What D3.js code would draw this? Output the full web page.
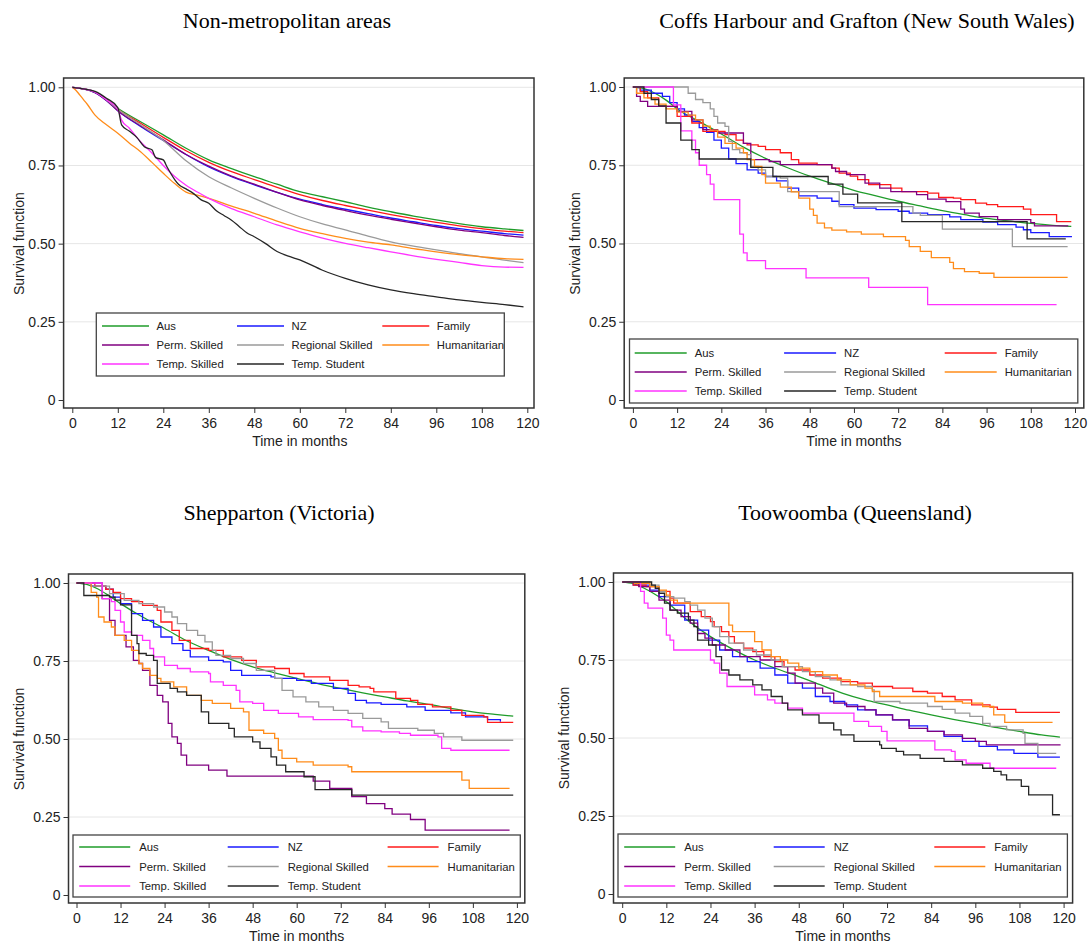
<!DOCTYPE html>
<html>
<head>
<meta charset="utf-8">
<script src="https://cdn.jsdelivr.net/npm/d3@7"></script>
<style>
  body { margin: 0; background: #fff; }
  svg text { font-family: "Liberation Sans", Arial, sans-serif; fill: #222; }
  .title { font-family: "Liberation Serif", "Times New Roman", serif; font-size: 22px; fill: #000; }
</style>
</head>
<body>
<svg id="chart" width="1090" height="943"></svg>
<script>
const timeTicks = [0, 12, 24, 36, 48, 60, 72, 84, 96, 108, 120];
const survTicks = [0, 0.25, 0.5, 0.75, 1];
const gridTicks = [0.25, 0.5, 0.75, 1];
const seriesNames = ["Aus", "NZ", "Family", "Perm. Skilled", "Regional Skilled", "Humanitarian", "Temp. Skilled", "Temp. Student"];
const seriesColors = ["#1f9c2a", "#1a1aff", "#ff1a1a", "#800080", "#9a9a9a", "#ff8c1a", "#ff33ff", "#262626"];
const panelTitles = ["Non-metropolitan areas", "Coffs Harbour and Grafton (New South Wales)", "Shepparton (Victoria)", "Toowoomba (Queensland)"];

// [month, survival] pairs
const nmAus = [[0,1],[3,0.995],[6,0.985],[9,0.96],[12,0.933],[18,0.89],[24,0.848],[30,0.805],[36,0.768],[42,0.74],[48,0.714],[54,0.69],[60,0.666],[66,0.65],[72,0.634],[78,0.617],[84,0.602],[90,0.588],[96,0.576],[102,0.564],[108,0.554],[114,0.547],[119,0.542]];
const nmNZ = [[0,1],[3,0.995],[6,0.983],[9,0.958],[12,0.925],[18,0.875],[24,0.83],[30,0.785],[36,0.745],[42,0.714],[48,0.688],[54,0.664],[60,0.642],[66,0.625],[72,0.61],[78,0.596],[84,0.582],[90,0.57],[96,0.558],[102,0.548],[108,0.54],[114,0.532],[119,0.527]];
const nmFamily = [[0,1],[3,0.995],[6,0.985],[9,0.962],[12,0.93],[18,0.885],[24,0.84],[30,0.797],[36,0.76],[42,0.73],[48,0.705],[54,0.68],[60,0.657],[66,0.638],[72,0.622],[78,0.607],[84,0.593],[90,0.58],[96,0.568],[102,0.557],[108,0.548],[114,0.54],[119,0.535]];
const nmPerm = [[0,1],[3,0.995],[6,0.983],[9,0.958],[12,0.925],[18,0.877],[24,0.832],[30,0.785],[36,0.748],[42,0.716],[48,0.69],[54,0.664],[60,0.64],[66,0.622],[72,0.606],[78,0.591],[84,0.578],[90,0.566],[96,0.554],[102,0.543],[108,0.535],[114,0.526],[119,0.52]];
const nmRegional = [[0,1],[3,0.995],[6,0.985],[9,0.96],[12,0.93],[18,0.88],[24,0.83],[30,0.765],[36,0.714],[42,0.678],[48,0.645],[54,0.614],[60,0.586],[66,0.563],[72,0.544],[78,0.524],[84,0.506],[90,0.492],[96,0.48],[102,0.468],[108,0.458],[114,0.447],[119,0.439]];
const nmHuman = [[0,1],[1,0.99],[2,0.975],[3,0.96],[4,0.945],[6,0.911],[9,0.88],[12,0.853],[15,0.822],[18,0.794],[21,0.76],[24,0.725],[27,0.692],[30,0.665],[33,0.655],[36,0.645],[42,0.62],[48,0.597],[54,0.572],[60,0.549],[66,0.532],[72,0.517],[78,0.505],[84,0.496],[90,0.484],[96,0.474],[102,0.465],[108,0.458],[114,0.452],[119,0.45]];
const nmTempSkilled = [[0,1],[3,0.995],[6,0.985],[9,0.96],[12,0.93],[13,0.895],[15,0.87],[18,0.826],[21,0.79],[24,0.75],[27,0.715],[30,0.687],[33,0.665],[36,0.645],[42,0.612],[48,0.586],[54,0.56],[60,0.538],[66,0.518],[72,0.501],[78,0.487],[84,0.474],[90,0.461],[96,0.45],[102,0.44],[108,0.43],[114,0.425],[119,0.424]];
const nmStudent = [[0,1],[3,0.995],[6,0.987],[9,0.965],[12,0.935],[13,0.88],[15,0.86],[17,0.84],[19,0.81],[21,0.8],[22,0.775],[24,0.768],[25,0.745],[27,0.705],[28,0.69],[30,0.675],[32,0.66],[34,0.64],[36,0.629],[38,0.605],[40,0.59],[42,0.575],[44,0.555],[46,0.535],[48,0.522],[51,0.5],[54,0.475],[57,0.46],[60,0.448],[66,0.415],[72,0.389],[78,0.368],[84,0.352],[90,0.34],[96,0.33],[102,0.32],[108,0.312],[114,0.305],[119,0.298]];

const chAus = [[0,1],[3,0.995],[6,0.98],[9,0.958],[12,0.93],[18,0.89],[24,0.85],[30,0.808],[36,0.772],[42,0.742],[48,0.715],[54,0.692],[60,0.67],[66,0.652],[72,0.635],[78,0.62],[84,0.605],[90,0.592],[96,0.58],[102,0.572],[108,0.564],[114,0.558],[119,0.555]];
const chNZ = [[0,1],[2,0.99],[5,0.98],[8,0.97],[10,0.95],[12,0.93],[14,0.91],[16,0.89],[18,0.87],[20,0.855],[22,0.83],[24,0.805],[26,0.77],[28,0.755],[31,0.735],[34,0.725],[36,0.714],[39,0.7],[42,0.677],[45,0.652],[50,0.645],[54,0.635],[56,0.624],[60,0.613],[66,0.608],[72,0.603],[75,0.597],[80,0.592],[86,0.585],[89,0.576],[95,0.568],[99,0.56],[104,0.552],[106,0.544],[108,0.535],[113,0.522],[119,0.52]];
const chFamily = [[0,1],[2,0.985],[4,0.965],[7,0.938],[12,0.906],[16,0.885],[19,0.858],[25,0.848],[28,0.83],[30,0.82],[31,0.815],[34,0.81],[36,0.8],[40,0.79],[43,0.768],[45,0.757],[50,0.752],[54,0.741],[56,0.725],[59,0.715],[61,0.704],[64,0.688],[70,0.677],[73,0.666],[80,0.661],[83,0.647],[87,0.645],[89,0.64],[93,0.629],[96,0.624],[99,0.618],[106,0.61],[108,0.592],[115,0.57],[119,0.57]];
const chPerm = [[0,1],[1,0.97],[2,0.954],[4,0.938],[12,0.922],[16,0.895],[19,0.864],[23,0.853],[30,0.82],[32,0.768],[37,0.762],[40,0.752],[54,0.741],[55,0.73],[58,0.72],[63,0.693],[67,0.677],[70,0.666],[77,0.656],[80,0.642],[85,0.634],[89,0.61],[90,0.597],[94,0.586],[99,0.576],[108,0.567],[109,0.556],[118,0.554]];
const chRegional = [[0,1],[15,0.98],[17,0.96],[19,0.95],[21,0.93],[22,0.906],[23,0.885],[25,0.874],[26,0.826],[27,0.8],[29,0.79],[31,0.784],[32,0.746],[34,0.735],[36,0.714],[40,0.709],[42,0.666],[56,0.618],[76,0.597],[78,0.59],[84,0.546],[103,0.49],[118,0.49]];
const chHuman = [[0,1],[1,0.98],[3,0.965],[6,0.945],[9,0.93],[12,0.92],[15,0.91],[17,0.895],[19,0.875],[21,0.862],[23,0.84],[25,0.82],[28,0.805],[30,0.79],[31,0.768],[33,0.746],[35,0.72],[36,0.693],[40,0.68],[43,0.665],[45,0.645],[48,0.61],[49,0.59],[50,0.565],[52,0.55],[54,0.543],[58,0.537],[62,0.53],[68,0.522],[74,0.51],[75,0.49],[78,0.475],[81,0.455],[86,0.44],[87,0.42],[90,0.41],[94,0.405],[98,0.392],[118,0.392]];
const chTempSkilled = [[0,1],[11,0.943],[13,0.86],[16,0.83],[17,0.79],[18,0.75],[20,0.72],[21,0.69],[22,0.64],[29,0.53],[30,0.47],[31,0.445],[36,0.42],[47,0.39],[64,0.36],[80,0.305],[115,0.305]];
const chStudent = [[0,1],[3,0.98],[5,0.96],[7,0.94],[9,0.885],[13,0.83],[16,0.8],[18,0.77],[28,0.77],[32,0.743],[38,0.714],[53,0.69],[57,0.658],[61,0.63],[73,0.57],[107,0.515],[117.5,0.515]];

const shAus = [[0,1],[3,0.995],[6,0.98],[9,0.958],[12,0.934],[18,0.891],[24,0.854],[30,0.815],[36,0.784],[42,0.755],[48,0.731],[54,0.712],[60,0.694],[66,0.677],[72,0.662],[78,0.648],[84,0.635],[90,0.622],[96,0.611],[102,0.598],[108,0.587],[114,0.579],[119,0.573]];
const shNZ = [[0,1],[4,0.99],[8,0.98],[10,0.955],[12,0.934],[15,0.902],[18,0.88],[21,0.859],[23,0.827],[26,0.806],[29,0.784],[31,0.763],[36,0.752],[40,0.747],[42,0.72],[45,0.704],[53,0.699],[54,0.694],[60,0.688],[64,0.678],[70,0.662],[74,0.646],[76,0.624],[79,0.616],[83,0.611],[90,0.603],[95,0.592],[102,0.584],[106,0.571],[112,0.562],[115.5,0.555]];
const shFamily = [[0,1],[5,0.99],[8,0.98],[10,0.97],[12,0.95],[15,0.94],[18,0.928],[22,0.912],[23,0.875],[26,0.848],[28,0.816],[31,0.79],[36,0.784],[40,0.763],[45,0.752],[49,0.731],[54,0.726],[58,0.71],[62,0.699],[69,0.688],[74,0.672],[77,0.667],[80,0.662],[81,0.651],[87,0.63],[91,0.624],[93,0.611],[97,0.603],[102,0.592],[105,0.576],[111,0.571],[112,0.553],[119,0.553]];
const shPerm = [[0,1],[7,0.95],[9,0.88],[10.5,0.832],[13.5,0.795],[15.5,0.752],[17,0.742],[18,0.72],[20,0.672],[22,0.64],[23.5,0.619],[25,0.55],[26,0.507],[27.5,0.486],[28.5,0.448],[30,0.416],[36,0.4],[41,0.381],[61.5,0.381],[64.5,0.365],[69,0.342],[75,0.315],[79,0.293],[84,0.277],[86,0.259],[91,0.242],[95,0.208],[118,0.208]];
const shRegional = [[0,1],[4,0.99],[9,0.966],[13,0.944],[17,0.934],[21,0.923],[24,0.907],[26,0.891],[27.5,0.87],[30,0.848],[33,0.832],[35,0.811],[37,0.784],[38,0.768],[42,0.758],[45.5,0.742],[49,0.72],[54,0.694],[56,0.656],[59,0.635],[62.5,0.619],[66,0.603],[70,0.592],[74,0.582],[78,0.566],[83,0.555],[85,0.534],[93,0.528],[97.5,0.518],[100,0.507],[105,0.496],[119,0.496]];
const shHuman = [[0,1],[4,0.97],[5.5,0.955],[6,0.891],[7.5,0.875],[9.5,0.859],[10.5,0.832],[13,0.816],[15,0.784],[17,0.742],[18,0.726],[20,0.704],[22,0.694],[23,0.683],[26.5,0.667],[30,0.64],[34,0.624],[37,0.614],[42,0.598],[45.5,0.587],[47,0.528],[51,0.518],[54,0.502],[55,0.464],[56,0.438],[60,0.427],[64.5,0.416],[74,0.411],[75,0.395],[103,0.395],[105,0.368],[107,0.342],[118,0.342]];
const shTempSkilled = [[0,1],[7,0.95],[9.5,0.94],[10.5,0.912],[12,0.875],[13,0.843],[15,0.832],[18,0.816],[20,0.79],[21,0.763],[24,0.736],[27.5,0.726],[31,0.715],[36,0.71],[36.5,0.683],[40,0.672],[43.5,0.656],[44.5,0.619],[48,0.614],[51,0.592],[55,0.582],[60.5,0.571],[64.5,0.562],[74,0.56],[75,0.539],[78,0.526],[83,0.523],[88,0.518],[91,0.512],[98.5,0.507],[99.5,0.47],[102,0.464],[118,0.464]];
const shStudent = [[0,1],[2,0.96],[9,0.955],[10.5,0.945],[12,0.93],[15,0.832],[16.5,0.806],[17,0.774],[19,0.768],[21,0.752],[22,0.678],[25.5,0.662],[27.5,0.651],[30,0.64],[34,0.587],[36,0.55],[41.5,0.534],[43,0.507],[48,0.491],[50,0.47],[53,0.443],[54.5,0.416],[57,0.395],[62,0.379],[65,0.338],[75,0.32],[119,0.32]];

const twAus = [[0,1],[3,0.995],[6,0.98],[9,0.96],[12,0.937],[18,0.875],[24,0.825],[30,0.785],[36,0.75],[42,0.722],[48,0.697],[54,0.67],[60,0.643],[66,0.622],[72,0.606],[78,0.589],[84,0.574],[90,0.56],[96,0.547],[102,0.533],[108,0.521],[114,0.51],[119,0.503]];
const twNZ = [[0,1],[3,0.99],[7.5,0.974],[10,0.953],[13,0.926],[17,0.878],[20.5,0.846],[23.5,0.814],[26.5,0.782],[30,0.761],[34,0.745],[37.5,0.724],[41.5,0.702],[45,0.676],[49,0.66],[52.5,0.633],[56.5,0.617],[60.5,0.606],[64,0.59],[69,0.574],[73.5,0.558],[78,0.539],[83,0.521],[87.5,0.505],[92.5,0.489],[97,0.473],[102,0.462],[106.5,0.451],[113,0.439],[119,0.439]];
const twFamily = [[0,1],[3,0.99],[6.5,0.985],[10,0.97],[13,0.948],[14,0.932],[18.5,0.905],[21.5,0.889],[24,0.873],[25,0.857],[27,0.841],[29,0.825],[30.5,0.804],[33,0.788],[35.5,0.777],[38.5,0.761],[41.5,0.745],[44,0.729],[47,0.718],[51,0.702],[54.5,0.692],[59.5,0.681],[64,0.676],[68,0.665],[73.5,0.66],[79,0.649],[83,0.644],[87,0.633],[90.5,0.622],[95,0.606],[100,0.599],[102,0.592],[107,0.582],[119,0.582]];
const twPerm = [[0,1],[4.5,0.985],[7.5,0.97],[10,0.942],[13,0.91],[16,0.889],[18.5,0.868],[20.5,0.835],[22.5,0.82],[24.5,0.798],[28,0.782],[32,0.761],[37.5,0.75],[41.5,0.729],[45,0.708],[47,0.676],[52.5,0.66],[54.5,0.644],[57.5,0.612],[61,0.601],[66,0.59],[69,0.574],[73.5,0.558],[78,0.531],[83,0.521],[87.5,0.51],[92.5,0.499],[96,0.489],[99,0.478],[119,0.476]];
const twRegional = [[0,1],[7.5,0.99],[10,0.97],[12,0.953],[14,0.948],[17,0.937],[18.5,0.926],[20.5,0.91],[22.5,0.884],[24.5,0.857],[26.5,0.825],[29,0.804],[33,0.782],[36.5,0.766],[40.5,0.75],[43.5,0.729],[49,0.713],[52.5,0.697],[56.5,0.686],[59.5,0.67],[64,0.665],[68,0.654],[68.5,0.617],[75.5,0.612],[83,0.601],[87,0.592],[90.5,0.58],[94.5,0.569],[98,0.547],[100,0.537],[104.5,0.526],[109,0.515],[109.5,0.483],[113,0.451],[118,0.451]];
const twHuman = [[0,1],[3.5,0.996],[7.5,0.985],[10,0.974],[12,0.958],[13,0.942],[15,0.932],[28.5,0.932],[29,0.862],[30,0.841],[36,0.809],[38,0.782],[40.5,0.761],[43,0.75],[45,0.74],[48,0.724],[51,0.713],[54.5,0.702],[58.5,0.686],[62,0.67],[66,0.66],[68,0.649],[70,0.633],[85,0.617],[92.5,0.612],[98,0.601],[101,0.574],[104,0.55],[117,0.55]];
const twTempSkilled = [[0,1],[5,0.97],[6,0.932],[7,0.916],[11,0.884],[12,0.83],[13,0.814],[14,0.782],[23.5,0.782],[24,0.75],[25,0.74],[26.5,0.708],[28.5,0.665],[36,0.638],[39.5,0.622],[41.5,0.612],[45,0.596],[49,0.58],[63,0.553],[67,0.537],[70.5,0.521],[72,0.491],[85,0.462],[89.5,0.457],[90.5,0.43],[93.5,0.419],[100,0.403],[118,0.403]];
const twStudent = [[0,1],[8,0.99],[9,0.98],[10,0.964],[11.5,0.932],[13,0.91],[15,0.9],[18,0.878],[19.5,0.857],[20.5,0.814],[23.5,0.798],[25.5,0.761],[27,0.718],[29,0.702],[32,0.686],[35.5,0.67],[38,0.654],[40.5,0.633],[43.5,0.612],[45,0.59],[49,0.574],[53.5,0.548],[57.5,0.526],[59.5,0.51],[63,0.489],[70,0.478],[70.5,0.467],[74.5,0.457],[76.5,0.446],[81,0.435],[87.5,0.425],[92.5,0.414],[98,0.403],[101,0.393],[103,0.382],[104.5,0.366],[108.5,0.345],[110.5,0.318],[117,0.254],[119,0.254]];

// layout of the four panels
const panels = [
  { title: panelTitles[0], tx: 287, ty: 28, frame: [63.6, 78, 534, 408], xr: [72.3, 527.3], yr: [400, 87.3], ylabX: 24,
    smooth: true, series: [nmAus, nmNZ, nmFamily, nmPerm, nmRegional, nmHuman, nmTempSkilled, nmStudent],
    legend: { x: 96.3, y: 313, w: 408, h: 63, colX: [102, 237, 382.3], lineLen: 47, textDx: 54.5, rowY: 326, rowGap: 19 } },
  { title: panelTitles[1], tx: 867, ty: 28, frame: [624.2, 78, 1083.8, 408], xr: [632.9, 1075], yr: [400, 87], ylabX: 580,
    smooth: false, series: [chAus, chNZ, chFamily, chPerm, chRegional, chHuman, chTempSkilled, chStudent],
    legend: { x: 629.5, y: 339, w: 448.3, h: 64, colX: [634.7, 784.1, 944.7], lineLen: 52, textDx: 60, rowY: 353, rowGap: 19 } },
  { title: panelTitles[2], tx: 279, ty: 520, frame: [68.5, 574, 524.8, 903], xr: [76.5, 516.9], yr: [895, 583], ylabX: 24,
    smooth: false, series: [shAus, shNZ, shFamily, shPerm, shRegional, shHuman, shTempSkilled, shStudent],
    legend: { x: 73, y: 835, w: 447.3, h: 62, colX: [79.2, 227.7, 387.6], lineLen: 51, textDx: 60, rowY: 847, rowGap: 19.5 } },
  { title: panelTitles[3], tx: 855, ty: 520, frame: [613.5, 573, 1072.6, 903], xr: [622.2, 1063.6], yr: [894, 582], ylabX: 569,
    smooth: false, series: [twAus, twNZ, twFamily, twPerm, twRegional, twHuman, twTempSkilled, twStudent],
    legend: { x: 618, y: 834, w: 449.4, h: 63, colX: [624.2, 773.7, 934.3], lineLen: 51, textDx: 60, rowY: 847, rowGap: 19.5 } }
];

const svg = d3.select('#chart');
const fmtSurv = d => d === 0 ? '0' : d.toFixed(2);

panels.forEach(p => {
  const [fx0, fy0, fx1, fy1] = p.frame;
  const x = d3.scaleLinear().domain([0, 120]).range(p.xr);
  const y = d3.scaleLinear().domain([0, 1]).range(p.yr);
  const g = svg.append('g');

  g.append('text').attr('class', 'title')
    .attr('x', p.tx).attr('y', p.ty).attr('text-anchor', 'middle')
    .text(p.title);

  // grid
  g.append('g').selectAll('line').data(gridTicks).join('line')
    .attr('x1', fx0).attr('x2', fx1)
    .attr('y1', d => y(d)).attr('y2', d => y(d))
    .attr('stroke', '#e6e6e6').attr('stroke-width', 1);

  // curves
  const line = d3.line().x(d => x(d[0])).y(d => y(d[1]));
  p.series.forEach((s, i) => {
    const smooth = p.smooth || i === 0;
    g.append('path')
      .datum(s)
      .attr('d', line.curve(smooth ? d3.curveMonotoneX : d3.curveStepAfter))
      .attr('fill', 'none')
      .attr('stroke', seriesColors[i])
      .attr('stroke-width', 1.3);
  });

  // legend
  const L = p.legend;
  const lg = g.append('g');
  lg.append('rect').attr('x', L.x).attr('y', L.y).attr('width', L.w).attr('height', L.h)
    .attr('fill', '#fff').attr('stroke', '#444').attr('stroke-width', 1.3);
  seriesNames.forEach((name, i) => {
    const cx = L.colX[i % 3];
    const cy = L.rowY + Math.floor(i / 3) * L.rowGap;
    lg.append('line').attr('x1', cx).attr('x2', cx + L.lineLen).attr('y1', cy).attr('y2', cy)
      .attr('stroke', seriesColors[i]).attr('stroke-width', 1.3);
    lg.append('text').attr('x', cx + L.textDx).attr('y', cy + 4)
      .attr('font-size', 11.3).text(name);
  });

  // frame
  g.append('rect').attr('x', fx0).attr('y', fy0).attr('width', fx1 - fx0).attr('height', fy1 - fy0)
    .attr('fill', 'none').attr('stroke', '#333').attr('stroke-width', 1.5);

  // axes
  const yAxis = d3.axisLeft(y).tickValues(survTicks).tickFormat(fmtSurv).tickSize(5).tickPadding(3);
  const ya = g.append('g').attr('transform', `translate(${fx0},0)`).call(yAxis);
  const xAxis = d3.axisBottom(x).tickValues(timeTicks).tickSize(5).tickPadding(5);
  const xa = g.append('g').attr('transform', `translate(0,${fy1})`).call(xAxis);
  [ya, xa].forEach(a => {
    a.select('.domain').remove();
    a.selectAll('.tick line').attr('stroke', '#333');
    a.selectAll('.tick text').attr('font-size', 14).attr('font-family', '"Liberation Sans", Arial, sans-serif').attr('fill', '#222');
  });

  g.append('text').attr('x', (p.xr[0] + p.xr[1]) / 2).attr('y', fy1 + 38)
    .attr('text-anchor', 'middle').attr('font-size', 14).text('Time in months');
  g.append('text')
    .attr('transform', `translate(${p.ylabX},${(p.yr[0] + p.yr[1]) / 2}) rotate(-90)`)
    .attr('text-anchor', 'middle').attr('font-size', 14).text('Survival function');
});
</script>
</body>
</html>
